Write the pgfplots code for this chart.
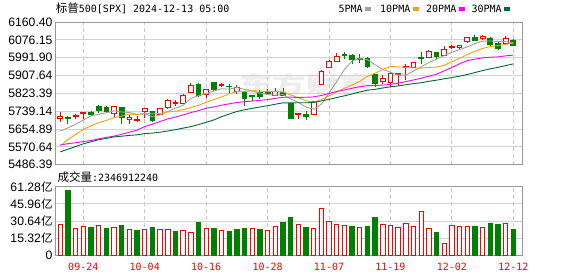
\documentclass[border=0pt]{standalone}
\usepackage{fontspec}
\setmainfont{Liberation Sans}
\newfontfamily\cjk{Noto Sans CJK SC}
\newfontfamily\dmono{DejaVu Sans Mono}
\usepackage{pgfplots}
\usepackage{pgfplotstable}
\pgfplotsset{compat=1.18}

\definecolor{kred}{HTML}{FF0000}
\definecolor{kgreen}{HTML}{008000}
\definecolor{maA}{HTML}{A0A0A0}
\definecolor{maB}{HTML}{F2A20C}
\definecolor{maC}{HTML}{FF00FF}
\definecolor{maD}{HTML}{006B33}
\definecolor{framec}{HTML}{999999}
\definecolor{gridc}{HTML}{D2D2D2}
\definecolor{gridv}{HTML}{C8C8C8}

% candle: index, low, body bottom, body top, high, colour, body fill
\newcommand\candle[7]{%
  \pgfmathsetmacro\xl{#1-0.31}\pgfmathsetmacro\xr{#1+0.31}%
  \edef\temp{%
    \noexpand\addplot[#6, line width=0.9pt] coordinates {(#1,#2) (#1,#3)};
    \noexpand\addplot[#6, line width=0.9pt] coordinates {(#1,#4) (#1,#5)};
    \noexpand\addplot[draw=#6, fill=#7, line width=0.9pt] coordinates {(\xl,#3) (\xr,#3) (\xr,#4) (\xl,#4)} --cycle;
  }\temp}
\newcommand\cu[5]{\candle{#1}{#2}{#3}{#4}{#5}{kred}{white}}
\newcommand\cd[5]{\candle{#1}{#2}{#3}{#4}{#5}{kgreen}{kgreen}}

\pgfplotstableread{
i ma5 ma10 ma20 ma30
0 5645.1 5575.0 5579.2 5546.8
1 5660.4 5604.5 5585.8 5559.6
2 5677.5 5629.2 5590.0 5572.1
3 5697.2 5653.0 5595.8 5585.0
4 5718.0 5669.8 5600.6 5594.6
5 5724.4 5684.7 5608.3 5604.3
6 5731.5 5696.0 5615.6 5610.8
7 5740.3 5708.9 5621.3 5617.7
8 5735.4 5716.3 5630.3 5621.1
9 5732.9 5725.4 5639.7 5624.8
10 5723.8 5724.1 5649.6 5627.5
11 5726.4 5728.9 5666.7 5633.5
12 5713.0 5726.7 5677.9 5635.5
13 5721.5 5728.5 5690.7 5640.0
14 5738.0 5735.4 5702.6 5645.5
15 5754.0 5738.9 5711.8 5651.8
16 5766.8 5746.6 5721.3 5659.2
17 5799.6 5756.3 5732.6 5666.3
18 5812.5 5767.0 5741.6 5675.8
19 5822.6 5780.3 5752.9 5686.6
20 5834.8 5794.4 5759.3 5697.9
21 5844.8 5805.8 5767.4 5713.1
22 5843.6 5821.6 5774.1 5725.8
23 5850.8 5831.6 5780.0 5737.7
24 5841.8 5832.2 5783.8 5745.8
25 5835.4 5835.1 5787.0 5752.9
26 5824.1 5834.5 5790.5 5759.0
27 5818.0 5830.8 5793.6 5765.3
28 5814.4 5832.6 5799.8 5772.0
29 5817.6 5829.7 5805.0 5778.5
30 5796.7 5816.1 5805.3 5778.2
31 5780.9 5802.5 5804.2 5779.1
32 5758.7 5788.4 5805.0 5778.9
33 5748.7 5781.5 5806.6 5780.5
34 5771.8 5794.7 5813.4 5787.4
35 5825.3 5811.0 5823.1 5795.0
36 5878.6 5829.8 5832.1 5803.6
37 5936.4 5847.5 5839.2 5811.6
38 5976.6 5862.7 5847.6 5820.7
39 5987.9 5879.8 5854.8 5829.9
40 5983.1 5904.2 5860.1 5838.2
41 5958.1 5918.4 5860.4 5842.2
42 5936.6 5936.5 5862.4 5848.8
43 5923.2 5949.9 5865.7 5854.3
44 5909.5 5948.7 5871.7 5858.5
45 5909.4 5946.3 5878.6 5864.1
46 5929.1 5943.6 5886.7 5869.3
47 5947.9 5942.2 5894.9 5873.5
48 5968.8 5946.0 5904.3 5880.4
49 5985.1 5947.3 5913.6 5885.6
50 6001.9 5955.6 5929.9 5892.0
51 6017.5 5973.3 5945.8 5898.1
52 6030.0 5988.9 5962.7 5904.6
53 6042.9 6005.9 5977.9 5912.4
54 6058.2 6021.7 5985.2 5921.7
55 6069.8 6035.8 5991.0 5931.0
56 6070.9 6044.2 5993.9 5939.2
57 6067.9 6049.0 5995.6 5946.2
58 6067.5 6055.2 6000.6 5954.6
59 6062.7 6060.5 6003.9 5962.5
}\matab

\begin{document}
\begin{tikzpicture}[x=1pt,y=1pt]
\path[use as bounding box] (0,0) rectangle (578,-276);

% watermark
\node[anchor=center, text=black!7, font=\cjk\bfseries\fontsize{23}{23}\selectfont, xscale=1.45, inner sep=0pt] at (306,-85) {东方财富};

% title
\node[anchor=base west, inner sep=0pt] at (55.7,-12.3) {{\cjk\fontsize{11.5}{12}\selectfont 标普}{\dmono\fontsize{10}{12}\selectfont 500[SPX] 2024-12-13 05:00}};

% legend
\node[anchor=base west, inner sep=0pt, font=\dmono\fontsize{10}{12}\selectfont] at (338.3,-12.5) {5PMA};
\fill[maA] (365,-6.7) rectangle (370.7,-10.7);
\node[anchor=base west, inner sep=0pt, font=\dmono\fontsize{10}{12}\selectfont] at (380,-12.5) {10PMA};
\fill[maB] (412.7,-6.7) rectangle (418.7,-10.7);
\node[anchor=base west, inner sep=0pt, font=\dmono\fontsize{10}{12}\selectfont] at (426,-12.5) {20PMA};
\fill[maC] (458.7,-6.7) rectangle (464.7,-10.7);
\node[anchor=base west, inner sep=0pt, font=\dmono\fontsize{10}{12}\selectfont] at (471.3,-12.5) {30PMA};
\fill[maD] (504,-6.7) rectangle (510,-10.7);

% volume title
\node[anchor=base west, inner sep=0pt] at (57.3,-181) {{\cjk\fontsize{11.5}{12}\selectfont 成交量}{\dmono\fontsize{10}{12}\selectfont :2346912240}};

% ---------------- price panel
\begin{axis}[
  at={(55.7pt,-164.7pt)}, anchor=south west,
  scale only axis, width=466.6pt, height=142.7pt,
  xmin=-0.594, xmax=60.17, ymin=5486.39, ymax=6160.40,
  axis line style={draw=framec, line width=1pt},
  xtick={3,11,19,27,35,43,51,59}, xticklabels={},
  ytick={5486.39,5570.64,5654.89,5739.14,5823.39,5907.64,5991.90,6076.15,6160.40},
  yticklabels={5486.39,5570.64,5654.89,5739.14,5823.39,5907.64,5991.90,6076.15,6160.40},
  xmajorgrids, ymajorgrids,
  major x grid style={draw=gridv, line width=0.9pt, dash pattern=on 4pt off 3pt},
  major y grid style={draw=gridc, line width=0.9pt},
  major tick length=0pt,
  yticklabel style={font=\fontsize{12.2}{12}\selectfont, text=black, anchor=east, inner sep=0pt, xshift=-3pt},
]
\cu{0}{5687}{5703}{5714}{5734}
\cd{1}{5678}{5703}{5709}{5715}
\cu{2}{5704}{5713}{5719}{5725}
\cu{3}{5703}{5727}{5733}{5736}
\cd{4}{5716}{5722}{5735}{5742}
\cd{5}{5729}{5745}{5763}{5768}
\cd{6}{5730}{5738}{5756}{5765}
\cu{7}{5705}{5727}{5762}{5765}
\cd{8}{5681}{5709}{5757}{5758}
\cu{9}{5679}{5699}{5710}{5719}
\cu{10}{5686}{5697}{5700}{5715}
\cu{11}{5707}{5740}{5751}{5755}
\cd{12}{5690}{5696}{5738}{5740}
\cu{13}{5723}{5725}{5751}{5755}
\cu{14}{5752}{5756}{5792}{5797}
\cu{15}{5765}{5778}{5780}{5794}
\cu{16}{5775}{5777}{5815}{5822}
\cu{17}{5829}{5830}{5860}{5871}
\cd{18}{5804}{5815}{5866}{5870}
\cu{19}{5802}{5816}{5842}{5846}
\cd{20}{5840}{5841}{5875}{5878}
\cu{21}{5852}{5860}{5865}{5871}
\cd{22}{5824}{5854}{5857}{5866}
\cu{23}{5822}{5833}{5851}{5863}
\cd{24}{5762}{5797}{5834}{5834}
\cd{25}{5785}{5810}{5815}{5817}
\cd{26}{5799}{5808}{5826}{5840}
\cd{27}{5822}{5824}{5826}{5843}
\cu{28}{5810}{5815}{5833}{5848}
\cd{29}{5813}{5814}{5830}{5851}
\cd{30}{5702}{5705}{5775}{5780}
\cu{31}{5700}{5725}{5729}{5731}
\cd{32}{5696}{5713}{5725}{5741}
\cu{33}{5722}{5722}{5783}{5783}
\cu{34}{5865}{5865}{5929}{5933}
\cu{35}{5947}{5947}{5973}{5983}
\cu{36}{5976}{5976}{5996}{6012}
\cd{37}{5986}{6001}{6008}{6017}
\cd{38}{5961}{5984}{6003}{6007}
\cd{39}{5965}{5985}{5989}{6008}
\cd{40}{5942}{5949}{5989}{5993}
\cd{41}{5853}{5871}{5912}{5915}
\cu{42}{5866}{5878}{5894}{5909}
\cu{43}{5855}{5875}{5917}{5922}
\cu{44}{5860}{5914}{5917}{5920}
\cu{45}{5886}{5944}{5949}{5963}
\cu{46}{5944}{5944}{5969}{5973}
\cd{47}{5963}{5987}{5992}{6020}
\cu{48}{5992}{5992}{6022}{6026}
\cd{49}{5984}{5999}{6015}{6020}
\cu{50}{6004}{6004}{6032}{6045}
\cu{51}{6034}{6041}{6047}{6053}
\cu{52}{6029}{6041}{6050}{6053}
\cu{53}{6061}{6069}{6086}{6089}
\cd{54}{6070}{6075}{6089}{6099}
\cu{55}{6078}{6082}{6090}{6100}
\cd{56}{6048}{6053}{6083}{6089}
\cd{57}{6026}{6035}{6058}{6066}
\cu{58}{6060}{6060}{6084}{6093}
\cd{59}{6051}{6051}{6075}{6079}
\addplot[maA, line width=0.9pt] table[x=i, y=ma5] {\matab};
\addplot[maB, line width=0.9pt] table[x=i, y=ma10] {\matab};
\addplot[maC, line width=0.9pt] table[x=i, y=ma20] {\matab};
\addplot[maD, line width=0.9pt] table[x=i, y=ma30] {\matab};
\end{axis}

% ---------------- volume panel
\begin{axis}[
  at={(55.7pt,-255.3pt)}, anchor=south west,
  scale only axis, width=466.6pt, height=68.6pt,
  xmin=-0.594, xmax=60.17, ymin=0, ymax=61.28,
  axis line style={draw=framec, line width=1pt},
  xtick={3,11,19,27,35,43,51,59},
  xticklabels={09-24,10-04,10-16,10-28,11-07,11-19,12-02,12-12},
  xticklabel style={font=\dmono\fontsize{10}{12}\selectfont, text=kred, anchor=base, inner sep=0pt, yshift=-14.7pt},
  ytick={0,15.32,30.64,45.96,61.28},
  yticklabels={0,15.32{\cjk\fontsize{11.5}{12}\selectfont 亿},30.64{\cjk\fontsize{11.5}{12}\selectfont 亿},45.96{\cjk\fontsize{11.5}{12}\selectfont 亿},61.28{\cjk\fontsize{11.5}{12}\selectfont 亿}},
  xmajorgrids, ymajorgrids,
  major x grid style={draw=gridv, line width=0.9pt, dash pattern=on 4pt off 3pt},
  major y grid style={draw=gridc, line width=0.9pt},
  major tick length=0pt,
  yticklabel style={font=\fontsize{12.2}{12}\selectfont, text=black, anchor=east, inner sep=0pt, xshift=-3pt},
  ybar, bar width=4.4pt,
]
\addplot[draw=kred, fill=white, line width=0.9pt, bar shift=0pt] coordinates {
(0,27.8) (2,24.2) (3,26.0) (5,26.9) (7,25.1) (9,22.7) (11,22.7) (13,22.7) (14,22.7)
(16,21.8) (17,20.0) (19,23.6) (21,21.8) (25,23.6) (27,21.8) (28,26.0) (31,27.8)
(33,23.6) (34,42.1) (35,30.5) (36,27.8) (37,26.9) (39,25.1) (42,27.8) (43,26.9)
(44,25.1) (45,28.7) (46,26.0) (47,39.4) (48,24.2) (50,10.7) (51,26.9) (52,26.0)
(53,26.0) (55,25.1) (58,28.7)};
\addplot[draw=kgreen, fill=kgreen, line width=0.9pt, bar shift=0pt] coordinates {
(1,57.6) (4,24.5) (6,23.6) (8,26.3) (10,21.8) (12,24.5) (15,20.9) (18,29.0) (20,23.6)
(22,20.9) (23,22.7) (24,23.6) (26,22.7) (29,29.0) (30,33.4) (32,24.5) (38,26.0)
(40,26.0) (41,33.4) (49,20.6) (54,26.0) (56,28.7) (57,27.8) (59,23.47)};
\end{axis}
\end{tikzpicture}
\end{document}
